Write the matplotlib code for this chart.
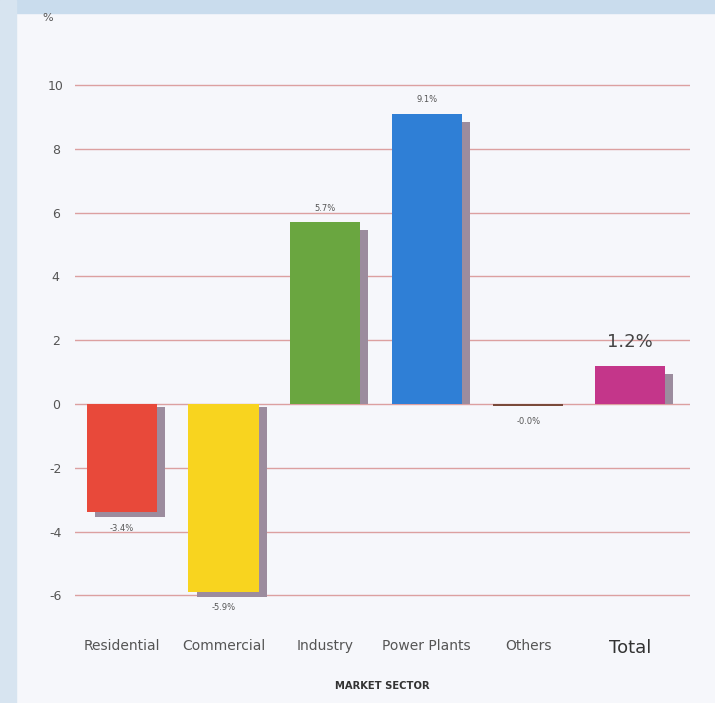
import matplotlib
matplotlib.use("Agg")
import matplotlib.pyplot as plt
from matplotlib.patches import Rectangle

categories = ["Residential", "Commercial", "Industry", "Power Plants", "Others", "Total"]
values = [-3.4, -5.9, 5.7, 9.1, -0.05, 1.2]
value_labels = ["-3.4%", "-5.9%", "5.7%", "9.1%", "-0.0%", "1.2%"]
colors = ["#e8493a", "#f8d41f", "#6aa640", "#2f7fd6", "#7a4a3a", "#c4368a"]
yticks = [-6, -4, -2, 0, 2, 4, 6, 8, 10]

fig = plt.figure(figsize=(7.15, 7.03), dpi=100)
fig.patch.set_facecolor("#f6f7fb")
# photo frame
fig.patches.append(Rectangle((0, 0.982), 1, 0.018, transform=fig.transFigure,
                             color="#c9dced", zorder=0))
fig.patches.append(Rectangle((0, 0), 0.022, 1, transform=fig.transFigure,
                             color="#d7e4f0", zorder=0))

ax = fig.add_axes([0.105, 0.126, 0.86, 0.780])
ax.set_facecolor("none")
ax.set_xlim(-0.46, 5.59)
ax.set_ylim(-6.6, 10.6)
for s in ax.spines.values():
    s.set_visible(False)

ax.set_yticks(yticks)
ax.set_yticklabels([str(t) for t in yticks], fontsize=9, color="#555555")
ax.tick_params(axis="y", length=0, pad=14)
for lab in ax.get_yticklabels():
    lab.set_horizontalalignment("center")
ax.yaxis.grid(True, color="#dca0a0", linewidth=1.0)
ax.set_axisbelow(True)

x = list(range(len(categories)))
w = 0.69
# shadows
for xi, v in zip(x, values):
    if abs(v) < 0.2:
        continue
    if v > 0:
        ax.bar(xi + 0.08, v - 0.25, width=w, color="#9c8c9e", zorder=2)
    else:
        ax.bar(xi + 0.08, v - 0.05, width=w, bottom=-0.1, color="#9c8c9e", zorder=2)
bars = ax.bar(x, values, width=w, color=colors, zorder=3)

for xi, v, lab, c in zip(x, values, value_labels, categories):
    if c == "Total":
        ax.text(xi, v + 0.45, lab, ha="center", va="bottom", fontsize=13, color="#444444")
    elif v >= 0:
        ax.text(xi, v + 0.3, lab, ha="center", va="bottom", fontsize=6, color="#555555")
    else:
        ax.text(xi, v - 0.35, lab, ha="center", va="top", fontsize=6, color="#555555")

ax.set_xticks(x)
ax.set_xticklabels(categories, fontsize=10, color="#555555")
ax.tick_params(axis="x", length=0, pad=18)
tl = ax.get_xticklabels()
tl[-1].set_fontsize(13)
tl[-1].set_color("#333333")

fig.text(0.067, 0.974, "%", fontsize=8, color="#555555", ha="center", va="center")
fig.text(0.535, 0.024, "MARKET SECTOR", fontsize=8, fontweight="bold",
         color="#333333", ha="center", va="center", fontstretch="condensed")

fig.savefig("out.png", dpi=100, facecolor=fig.get_facecolor())
